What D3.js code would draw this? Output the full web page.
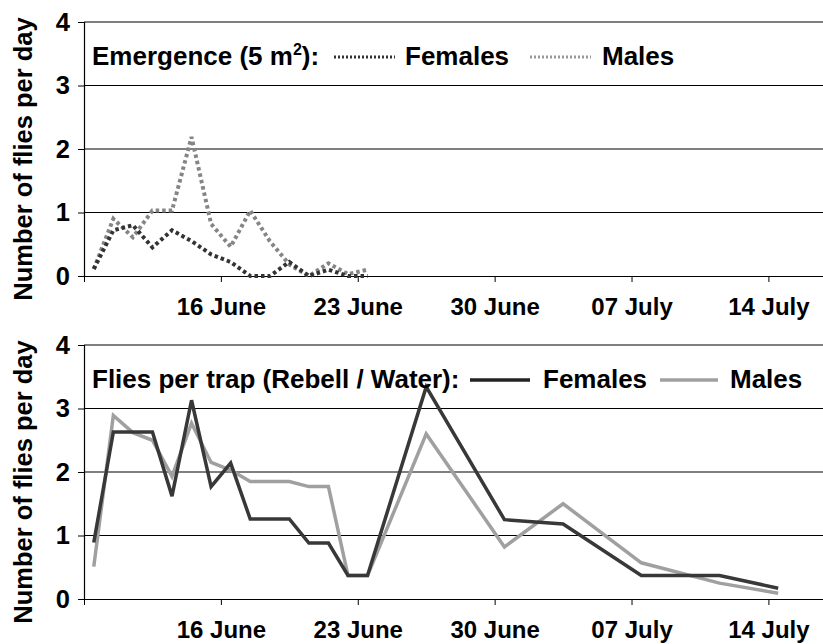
<!DOCTYPE html>
<html>
<head>
<meta charset="utf-8">
<script src="https://cdn.jsdelivr.net/npm/d3@7"></script>
<style>
  body { margin: 0; background: #fff; }
  text { font-family: "Liberation Sans", Arial, sans-serif; font-weight: bold; fill: #000; }
</style>
</head>
<body>
<div id="chart"></div>
<script>
// emergence (top panel), one value per day from 9 June
let emergenceDates = ['2009-06-09', '2009-06-10', '2009-06-11', '2009-06-12', '2009-06-13',
  '2009-06-14', '2009-06-15', '2009-06-16', '2009-06-17', '2009-06-18',
  '2009-06-19', '2009-06-20', '2009-06-21', '2009-06-22', '2009-06-23']
let emergenceFemales = [0.11, 0.72, 0.80, 0.45, 0.72, 0.55, 0.34, 0.22, 0, 0, 0.22, 0, 0.1, 0, 0]
let emergenceMales = [0.11, 0.90, 0.61, 1.03, 1.03, 2.19, 0.82, 0.46, 1.03, 0.55, 0.18, 0, 0.2, 0.03, 0.1]

// traps (bottom panel)
let trapDates = ['2009-06-09', '2009-06-10', '2009-06-11', '2009-06-12', '2009-06-13',
  '2009-06-14', '2009-06-15', '2009-06-16', '2009-06-17', '2009-06-18',
  '2009-06-19', '2009-06-20', '2009-06-21', '2009-06-22', '2009-06-23',
  '2009-06-26', '2009-06-30', '2009-07-03', '2009-07-07', '2009-07-11', '2009-07-14']
let trapFemales = [0.89, 2.63, 2.63, 2.63, 1.62, 3.13, 1.77, 2.14, 1.26, 1.26, 1.26, 0.88, 0.88, 0.37, 0.37,
  3.34, 1.25, 1.18, 0.37, 0.37, 0.17]
let trapMales = [0.51, 2.89, 2.62, 2.50, 1.93, 2.77, 2.15, 2.03, 1.85, 1.85, 1.85, 1.77, 1.77, 0.37, 0.37,
  2.60, 0.82, 1.50, 0.57, 0.25, 0.09]

let tickDates = ['2009-06-09', '2009-06-16', '2009-06-23', '2009-06-30', '2009-07-07', '2009-07-14']
let yTicks = [0, 1, 2, 3, 4]

let width = 823, height = 644
let parse = d3.timeParse('%Y-%m-%d')
let fmt = d3.timeFormat('%d %B')

let svg = d3.select('#chart')
  .append('svg')
  .attr('width', width)
  .attr('height', height)

let x = d3.scaleTime()
  .domain([parse('2009-06-09'), d3.timeHour.offset(parse('2009-07-16'), 19)])
  .range([84, 823])

// values sit in the middle of their day
let xMid = (s) => x(d3.timeHour.offset(parse(s), 12))

let drawPanel = (top, opts) => {
  let y = d3.scaleLinear().domain([0, 4]).range([top + 254, top])
  let g = svg.append('g')

  // grid lines
  g.selectAll('.grid')
    .data(yTicks.filter(d => d > 0))
    .enter()
    .append('line')
    .attr('x1', 84).attr('x2', width)
    .attr('y1', d => y(d)).attr('y2', d => y(d))
    .attr('stroke', '#000')
    .attr('stroke-width', 1.2)

  let yAxis = g.append('g')
    .attr('transform', 'translate(84,0)')
    .call(d3.axisLeft(y).tickValues(yTicks).tickFormat(d3.format('d')).tickSize(6).tickPadding(8))
  yAxis.select('.domain').attr('stroke-width', 1.2)
  yAxis.selectAll('text').style('font-size', '25.5px')

  let xAxis = g.append('g')
    .attr('transform', `translate(0,${y(0)})`)
    .call(d3.axisBottom(x).tickValues(tickDates.map(parse)).tickSize(6).tickSizeOuter(0)
      .tickFormat(d => +d === +parse(tickDates[0]) ? '' : fmt(d)).tickPadding(16))
  xAxis.select('.domain').attr('stroke-width', 1.2)
  xAxis.selectAll('text').style('font-size', '24px')

  g.append('text')
    .attr('transform', `translate(32,${top + 137}) rotate(-90)`)
    .attr('text-anchor', 'middle')
    .style('font-size', '25.5px')
    .text('Number of flies per day')

  let line = d3.line()
    .x(d => xMid(d[0]))
    .y(d => y(d[1]))

  opts.series.forEach(s => {
    g.append('path')
      .datum(d3.zip(opts.dates, s.values))
      .attr('d', line)
      .attr('fill', 'none')
      .attr('stroke', s.color)
      .attr('stroke-width', opts.dash ? 4 : 3.5)
      .attr('stroke-dasharray', opts.dash || null)
  })

  // title + legend
  let lg = g.append('g').attr('transform', `translate(0,${top + 43})`)
  let title = lg.append('text').attr('x', 92).style('font-size', '26px')
  opts.title(title)
  opts.legend.forEach(l => {
    lg.append('line')
      .attr('x1', l.x1).attr('x2', l.x2)
      .attr('y1', -8).attr('y2', -8)
      .attr('stroke', l.color)
      .attr('stroke-width', opts.dash ? 3 : 3.5)
      .attr('stroke-dasharray', opts.dash ? '2 2' : null)
    lg.append('text')
      .attr('x', l.tx)
      .style('font-size', '26px')
      .text(l.label)
  })
}

drawPanel(22, {
  dates: emergenceDates,
  dash: '3.5 3',
  series: [
    { values: emergenceMales, color: '#858585' },
    { values: emergenceFemales, color: '#333' }
  ],
  title: (t) => {
    t.append('tspan').text('Emergence (5 m')
    t.append('tspan').attr('dy', -10).style('font-size', '16px').text('2')
    t.append('tspan').attr('dy', 10).text('):')
  },
  legend: [
    { x1: 334, x2: 395, tx: 405, label: 'Females', color: '#333' },
    { x1: 530, x2: 591, tx: 602, label: 'Males', color: '#999' }
  ]
})

drawPanel(345, {
  dates: trapDates,
  series: [
    { values: trapMales, color: '#a0a0a0' },
    { values: trapFemales, color: '#383838' }
  ],
  title: (t) => t.text('Flies per trap (Rebell / Water):'),
  legend: [
    { x1: 470, x2: 530, tx: 543, label: 'Females', color: '#222' },
    { x1: 660, x2: 718, tx: 730, label: 'Males', color: '#a0a0a0' }
  ]
})
</script>
</body>
</html>
